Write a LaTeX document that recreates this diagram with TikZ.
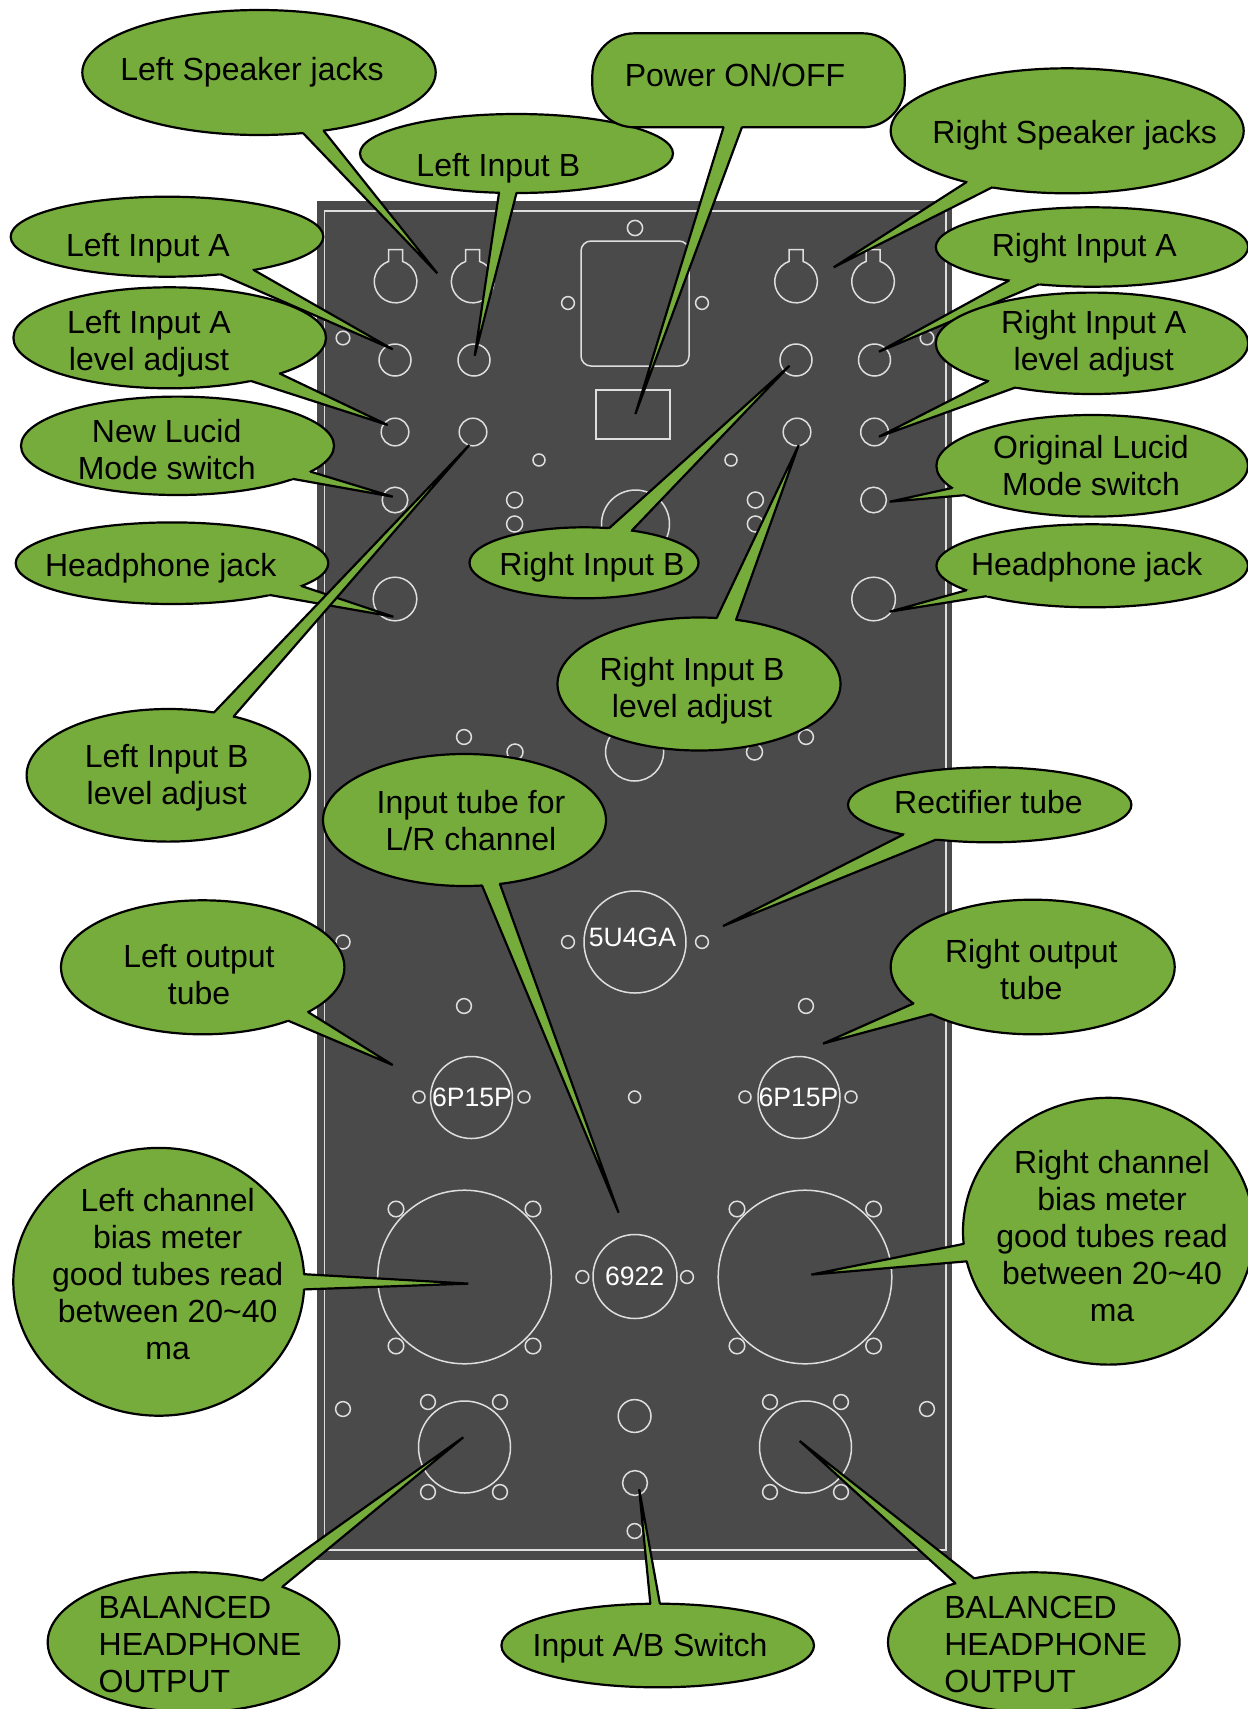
\documentclass[tikz,border=0pt]{standalone}
\usepackage{fontspec}
\setmainfont{Liberation Sans}
\usetikzlibrary{shapes.geometric}
\definecolor{leaf}{HTML}{76AC3B}
\definecolor{plate}{HTML}{4A4A4A}
\definecolor{cutline}{HTML}{DEDEDE}
\newcommand\tl[1]{\begin{tabular}[t]{@{}c@{}}#1\end{tabular}}
\newcommand\tll[1]{\begin{tabular}[t]{@{}l@{}}#1\end{tabular}}
\newcommand\hole[3]{\draw[cut] (#1,#2) circle[radius=#3pt];}
\newcommand\keyhole[2]{\draw[cut] (#1+7,261.4) arc[start angle=71,end angle=-251,radius=10.65pt] -- (#1-7,249.5) -- (#1+7,249.5) -- cycle;}
\newcommand\callout[9]{%
  \node[bubble,minimum width=#3pt,minimum height=#4pt] (#1) at (#2) {};
  \coordinate (#1tip) at (#7);
  \fill[leaf] (#1.#5) -- (#1tip) -- (#1.#6) -- (#1.center) -- cycle;
  \draw[tail] (#1.#5) -- (#1tip) -- (#1.#6);
  \node[lbl] (#1text) at (#8) {#9};
}
\tikzset{
  bubble/.style={ellipse,draw=black,fill=leaf,line width=1.1pt,inner sep=0pt,outer sep=0pt},
  tail/.style={draw=black,line width=1.1pt,line cap=round,line join=bevel},
  lbl/.style={anchor=base,yshift=-0.5pt,inner sep=0pt,outer sep=0pt,text=black,font=\fontsize{16}{18.5}\selectfont},
  tube/.style={anchor=base,yshift=-0.5pt,inner sep=0pt,outer sep=0pt,text=white,font=\fontsize{13.3}{15}\selectfont},
  cut/.style={draw=cutline,line width=0.75pt},
  platerim/.style={draw=cutline,line width=0.9pt},
}
\begin{document}
\begin{tikzpicture}[x=0.5pt,y=-0.5pt]
\useasboundingbox (0,0) rectangle (1248,1709);
\fill[white] (0,0) rectangle (1248,1709);
% panel
\fill[plate] (317,201) rectangle (952,1560);
\draw[platerim] (324.5,210.7) rectangle (946,1550);
% speaker jacks
\keyhole{395.5}{282}\keyhole{472.6}{282}\keyhole{796}{282}\keyhole{873}{282}
% mains socket and switch
\draw[cut,rounded corners=5pt] (581,241) rectangle (689,366);
\draw[cut] (596,390) rectangle (670,439);
\hole{635}{228}{3.8}\hole{568}{303}{3.2}\hole{702}{303}{3.2}
\hole{343}{338}{3.4}\hole{927}{338}{3.4}
% input rows
\foreach \px in {395,474,796,874.5} {\hole{\px}{360}{8}}
\foreach \px in {395,473,797,874.5} {\hole{\px}{432}{6.9}}
\hole{395}{500}{6.4}\hole{873.6}{500}{6.4}
\hole{395}{599}{10.9}\hole{873.6}{599}{10.9}
\hole{539}{460}{3}\hole{731}{460}{3}
\hole{514.6}{500}{4}\hole{514.6}{524}{4}\hole{755.4}{500}{4}\hole{755.4}{524}{4}
\hole{635.5}{524}{17}
\hole{464}{737}{3.7}\hole{515}{752}{4}\hole{754.5}{752}{4}\hole{806}{737}{3.7}
\hole{634.6}{752}{14.5}
% rectifier
\hole{635}{942}{25.5}\hole{568}{942}{3.2}\hole{702}{942}{3.2}\hole{343}{942}{3.5}
\hole{464}{1006}{3.7}\hole{806}{1006}{3.7}
% output tubes
\hole{471.5}{1097.5}{20.5}\hole{799}{1097.5}{20.5}
\hole{419}{1097}{3}\hole{524}{1097}{3}\hole{745}{1097}{3}\hole{851}{1097}{3}\hole{634.6}{1097}{3}
% meters
\hole{464.5}{1277}{43.4}\hole{805}{1277}{43.4}
\foreach \px in {396,533,737,873.6} {\hole{\px}{1209}{3.9}\hole{\px}{1346}{3.9}}
\hole{635}{1276.5}{21}\hole{582.4}{1277}{3.2}\hole{687}{1277}{3.2}
% balanced outputs
\hole{343}{1409}{3.7}\hole{927}{1409}{3.7}
\hole{464.5}{1447}{23}\hole{805.5}{1447}{23}
\foreach \px in {428,500,770,841} {\hole{\px}{1402}{3.7}\hole{\px}{1492}{3.7}}
\hole{634.6}{1416}{8.2}\hole{635}{1483}{6.2}\hole{634.6}{1531}{3.7}
% tube labels
\node[tube] (t5u) at (632.5,945.6) {5U4GA};
\node[tube] (t6pl) at (472,1105) {6P15P};
\node[tube] (t6pr) at (798.5,1105) {6P15P};
\node[tube] (t69) at (634.6,1284.3) {6922};
% callouts
\callout{ls}{259,72.5}{176.7}{62.5}{-54.9}{-42.6}{437.3,273.3}{252,79}{Left Speaker jacks}
\callout{lib}{516.5,153.5}{156.5}{39.5}{-114}{-90.7}{474.7,355.7}{498.3,175}{Left Input B}
% power
\node[draw=black,fill=leaf,line width=1.1pt,rounded corners=21pt,minimum width=156.2pt,minimum height=47pt,inner sep=0pt,outer sep=0pt] (pw) at (748.5,80.3) {};
\coordinate (pwtip) at (635.4,414);
\fill[leaf] (pw.-118.8) -- (pwtip) -- (pw.-98.2) -- (pw.center) -- cycle;
\draw[tail] (pw.-118.8) -- (pwtip) -- (pw.-98.2);
\node[lbl] (pwtext) at (735,85) {Power ON/OFF};
\callout{rs}{1067.2,130.8}{176.5}{62.5}{-153.4}{-143.7}{833.7,267.3}{1074.7,142.7}{Right Speaker jacks}
\callout{lia}{167,236.7}{156.3}{40}{-35.4}{-21.5}{392.7,349.3}{148,255}{Left Input A}
\callout{lial}{169.7,337.8}{156.3}{50.5}{-28.3}{-18.3}{387.7,425}{149,332.3}{\tl{Left Input A\\level adjust}}
\callout{nl}{177.5,445.8}{156.5}{49.2}{-16.2}{-11.5}{392.7,496.7}{166.7,441.7}{\tl{New Lucid\\Mode switch}}
\callout{lhp}{172,563.2}{156.3}{40.8}{-18.5}{-10.9}{393.3,616.7}{160.7,575}{Headphone jack}
\callout{libl}{168.3,775.3}{141.7}{66.3}{54.7}{42.4}{469.3,445}{166.7,766.7}{\tl{Left Input B\\level adjust}}
\callout{ria}{1092,247}{156.2}{39.7}{-158.3}{-145.4}{879,351.7}{1084.3,255}{Right Input A}
\callout{rial}{1092,343.3}{156.2}{50.7}{-160.4}{-150}{879,436.7}{1093.7,332.3}{\tl{Right Input A\\level adjust}}
\callout{ol}{1092.2,465.8}{155.8}{50.8}{-171.8}{-167.2}{889.7,501.7}{1091,457.3}{\tl{Original Lucid\\Mode switch}}
\callout{rhp}{1092.2,565.8}{155.8}{41.5}{-169.1}{-164}{889.7,611.7}{1086.7,574}{Headphone jack}
\callout{rib}{584,562.8}{114.5}{35.5}{54.6}{34.7}{789.5,365.7}{591.9,574}{Right Input B}
\callout{ribl}{699,684}{141.5}{66.5}{75}{60.2}{798.7,445}{692,679.5}{\tl{Right Input B\\level adjust}}
\callout{it}{464.5,820}{141.5}{66}{-75.3}{-61.8}{618.6,1212.7}{471,812.3}{\tl{Input tube for\\L/R channel}}
\callout{rec}{989.7,804.8}{141.7}{37.5}{-161.1}{-147.1}{723,926}{988.5,812.7}{Rectifier tube}
\callout{lo}{202.7,967.3}{141.7}{67}{-32.8}{-23.3}{392.7,1065}{199,966.8}{\tl{Left output\\tube}}
\callout{ro}{1032.7,967}{142}{67.3}{-163.7}{-155}{823,1043.6}{1031.3,961.4}{\tl{Right output\\tube}}
\callout{lc}{158.8,1281.8}{145.5}{133.9}{3.1}{-3.8}{468.3,1283.6}{167.7,1210.4}{\tl{Left channel\\bias meter\\good tubes read\\between 20\textasciitilde 40\\ma}}
\callout{rc}{1108.5,1231.2}{145.5}{133.4}{-175.1}{-168.2}{811.3,1274.6}{1112,1172.9}{\tl{Right channel\\bias meter\\good tubes read\\between 20\textasciitilde 40\\ma}}
\callout{lb}{193.5,1642.3}{145.8}{70}{42.4}{32.2}{463.3,1437.3}{200,1617.3}{\tll{BALANCED\\HEADPHONE\\OUTPUT}}
\callout{ab}{657.7,1645.5}{156.3}{41.8}{100}{87.5}{639.2,1489.3}{650,1655.7}{Input A/B Switch}
\callout{rb}{1033.8,1642.3}{145.8}{70}{143.6}{133}{799.7,1441}{1045.7,1617.3}{\tll{BALANCED\\HEADPHONE\\OUTPUT}}
\end{tikzpicture}
\end{document}
